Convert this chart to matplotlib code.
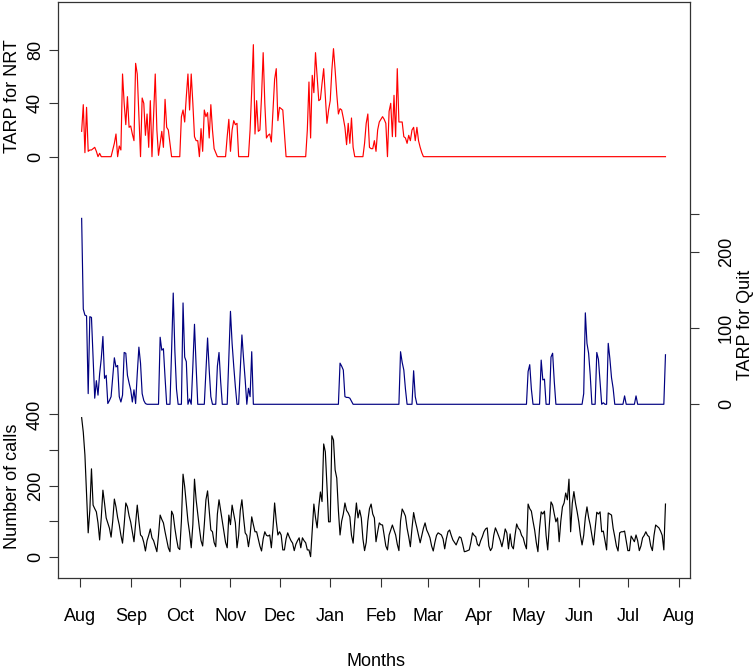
import numpy as np
import pandas as pd
import matplotlib
matplotlib.use("Agg")
import matplotlib.pyplot as plt

plt.rcParams['font.family'] = ['Liberation Sans', 'DejaVu Sans']

# ---------------- data (daily, starting 2011-08-02) ----------------
start_date = "2011-08-02"
month_ticks = pd.date_range("2011-08-01", "2012-08-01", freq="MS")
month_labels = [d.strftime("%b") for d in month_ticks]

calls = [
    391, 350, 286, 180, 67, 130,
    247, 145, 135, 126, 95, 47, 110,
    187, 150, 109, 95, 80, 55, 100,
    162, 140, 110, 89, 60, 38, 90,
    151, 140, 115, 97, 70, 42, 95,
    145, 100, 61, 56, 40, 16, 45,
    60, 78, 53, 45, 30, 14, 60,
    117, 105, 95, 70, 47, 25, 14,
    128, 117, 80, 50, 25, 20, 100,
    232, 197, 150, 100, 67, 25, 90,
    218, 160, 120, 80, 45, 30, 90,
    160, 185, 130, 75, 70, 40, 28,
    120, 160, 130, 98, 70, 40, 25,
    117, 90, 145, 120, 95, 25, 60,
    130, 160, 110, 67, 60, 28, 60,
    112, 90, 70, 70, 50, 30, 16,
    50, 70, 60, 58, 61, 25, 80,
    151, 100, 61, 70, 61, 19, 19,
    50, 67, 55, 45, 38, 17, 35,
    45, 53, 25, 53, 45, 39, 19,
    19, 0, 75, 148, 110, 81, 140,
    182, 155, 317, 295, 200, 98, 98,
    340, 328, 244, 221, 130, 61, 100,
    120, 151, 130, 123, 112, 60, 38,
    100, 151, 109, 131, 109, 50, 17,
    40, 100, 135, 148, 120, 109, 42,
    70, 95, 90, 89, 60, 30, 19,
    61, 75, 89, 75, 61, 35, 17,
    100, 134, 125, 114, 80, 56, 28,
    80, 124, 100, 81, 60, 39, 60,
    80, 95, 75, 65, 53, 30, 16,
    40, 60, 67, 64, 61, 50, 22,
    50, 70, 75, 60, 47, 40, 33,
    45, 56, 53, 35, 14, 15, 17,
    19, 40, 67, 60, 56, 35, 30,
    45, 56, 70, 78, 81, 30, 17,
    25, 60, 81, 70, 58, 45, 28,
    50, 78, 67, 22, 64, 30, 22,
    60, 92, 80, 75, 60, 53, 35,
    22, 148, 135, 128, 100, 75, 40,
    14, 80, 126, 120, 128, 60, 19,
    90, 154, 145, 120, 98, 109, 42,
    100, 140, 151, 179, 160, 218, 70,
    150, 183, 150, 126, 98, 60, 33,
    60, 110, 140, 110, 89, 60, 33,
    80, 125, 120, 126, 70, 72, 45,
    19, 123, 120, 117, 80, 56, 30,
    16, 67, 70, 70, 72, 45, 17,
    17, 58, 50, 42, 61, 45, 17,
    30, 53, 60, 70, 60, 56, 30,
    17, 60, 89, 85, 81, 72, 60,
    19, 148,
]

nrt = [
    19, 39, 3, 37, 4, 5,
    5, 6, 7, 4, 0, 2.5, 0,
    0, 0, 0, 0, 0, 0, 5,
    10, 17, 0, 8, 5, 62, 40,
    24, 45, 22, 23, 17, 12, 70,
    62, 30, 0, 44, 40, 16, 32,
    7, 42, 0, 30, 62, 20, 1,
    10, 19, 7, 43, 22, 20, 10,
    0, 0, 0, 0, 0, 0, 30,
    35, 26, 45, 62, 35, 62, 40,
    15, 12, 12, 0, 21, 4, 35,
    30, 33, 14, 39, 20, 6, 3,
    0, 0, 0, 0, 0, 0, 15,
    28, 4, 20, 27, 24, 25, 0,
    0, 0, 0, 0, 0, 0, 20,
    50, 84, 17, 42, 19, 20, 45,
    78, 40, 14, 16, 17, 11, 35,
    58, 66, 27, 37, 36, 35, 17,
    0, 0, 0, 0, 0, 0, 0,
    0, 0, 0, 0, 0, 0, 20,
    56, 14, 61, 48, 78, 60, 42,
    43, 55, 66, 45, 25, 35, 42,
    65, 81, 65, 47, 32, 36, 35,
    29, 22, 9, 25, 10, 29, 7,
    0, 0, 0, 0, 0, 0, 10,
    25, 32, 7, 6, 6, 12, 4,
    20, 26, 28, 30, 28, 25, 0,
    34, 40, 15, 46, 15, 66, 26,
    26, 26, 15, 14, 10, 16, 12,
    20, 22, 12, 22, 12, 7, 3,
    0, 0, 0, 0, 0, 0, 0,
    0, 0, 0, 0, 0, 0, 0,
    0, 0, 0, 0, 0, 0, 0,
    0, 0, 0, 0, 0, 0, 0,
    0, 0, 0, 0, 0, 0, 0,
    0, 0, 0, 0, 0, 0, 0,
    0, 0, 0, 0, 0, 0, 0,
    0, 0, 0, 0, 0, 0, 0,
    0, 0, 0, 0, 0, 0, 0,
    0, 0, 0, 0, 0, 0, 0,
    0, 0, 0, 0, 0, 0, 0,
    0, 0, 0, 0, 0, 0, 0,
    0, 0, 0, 0, 0, 0, 0,
    0, 0, 0, 0, 0, 0, 0,
    0, 0, 0, 0, 0, 0, 0,
    0, 0, 0, 0, 0, 0, 0,
    0, 0, 0, 0, 0, 0, 0,
    0, 0, 0, 0, 0, 0, 0,
    0, 0, 0, 0, 0, 0, 0,
    0, 0, 0, 0, 0, 0, 0,
    0, 0, 0, 0, 0, 0, 0,
    0, 0,
]

quit_calls = [
    244, 125, 117, 116, 14, 115,
    114, 60, 8, 31, 12, 40, 60,
    89, 34, 38, 1, 5, 10, 35,
    61, 49, 51, 10, 3, 12, 68,
    67, 38, 28, 19, 3, 19, 1,
    40, 75, 54, 14, 5, 1, 0,
    0, 0, 0, 0, 0, 0, 0,
    88, 71, 73, 35, 0, 0, 0,
    70, 146, 70, 20, 0, 0, 0,
    133, 62, 56, 0, 7, 0, 50,
    105, 50, 0, 0, 0, 0, 0,
    45, 87, 45, 10, 0, 0, 0,
    50, 68, 30, 0, 0, 0, 0,
    60, 122, 80, 50, 23, 0, 0,
    45, 91, 60, 32, 0, 21, 10,
    69, 0, 0, 0, 0, 0, 0,
    0, 0, 0, 0, 0, 0, 0,
    0, 0, 0, 0, 0, 0, 0,
    0, 0, 0, 0, 0, 0, 0,
    0, 0, 0, 0, 0, 0, 0,
    0, 0, 0, 0, 0, 0, 0,
    0, 0, 0, 0, 0, 0, 0,
    0, 0, 0, 0, 0, 54, 50,
    45, 10, 9, 9, 8, 4, 0,
    0, 0, 0, 0, 0, 0, 0,
    0, 0, 0, 0, 0, 0, 0,
    0, 0, 0, 0, 0, 0, 0,
    0, 0, 0, 0, 0, 0, 0,
    69, 55, 45, 20, 0, 0, 0,
    0, 44, 10, 0, 0, 0, 0,
    0, 0, 0, 0, 0, 0, 0,
    0, 0, 0, 0, 0, 0, 0,
    0, 0, 0, 0, 0, 0, 0,
    0, 0, 0, 0, 0, 0, 0,
    0, 0, 0, 0, 0, 0, 0,
    0, 0, 0, 0, 0, 0, 0,
    0, 0, 0, 0, 0, 0, 0,
    0, 0, 0, 0, 0, 0, 0,
    0, 0, 0, 0, 0, 0, 0,
    0, 43, 52, 20, 0, 0, 0,
    0, 0, 58, 32, 33, 0, 0,
    0, 62, 67, 30, 0, 0, 0,
    0, 0, 0, 0, 0, 0, 0,
    0, 0, 0, 0, 0, 0, 0,
    14, 120, 80, 67, 38, 0, 0,
    0, 68, 59, 30, 0, 2, 0,
    0, 80, 60, 35, 21, 0, 0,
    0, 0, 0, 0, 11, 0, 0,
    0, 0, 0, 0, 11, 0, 0,
    0, 0, 0, 0, 0, 0, 0,
    0, 0, 0, 0, 0, 0, 0,
    0, 65,
]

calls_ticks = [0, 100, 200, 300, 400]
calls_ticklabels = ["0", "", "200", "", "400"]
nrt_ticks = [0, 40, 80]
nrt_ticklabels = ["0", "40", "80"]
quit_ticks = [0, 100, 200, 250]
quit_ticklabels = ["0", "100", "200", ""]


def dates_for(v):
    return pd.date_range(start_date, periods=len(v), freq="D")


# ---------------- figure ----------------
W, H = 753, 670
fig = plt.figure(figsize=(W / 100, H / 100), dpi=100)
rect = [58 / W, (H - 578) / H, 632 / W, 576 / H]

ax_c = fig.add_axes(rect)
ax_n = fig.add_axes(rect, sharex=ax_c)
ax_q = fig.add_axes(rect, sharex=ax_c)

FS = 13
LW = 0.85
box_col = "#333333"

ax_n.plot(dates_for(nrt), nrt, color="#ff0000", lw=LW)
ax_q.plot(dates_for(quit_calls), quit_calls, color="#000080", lw=LW)
ax_c.plot(dates_for(calls), calls, color="black", lw=LW)

x0 = pd.Timestamp("2011-08-01")
ax_c.set_xlim(x0 - pd.Timedelta(days=13.46), x0 + pd.Timedelta(days=373.0))

ax_c.set_ylim(-60, 1560)
ax_n.set_ylim(-316, 116)
ax_q.set_ylim(-228, 528)

for a in (ax_n, ax_q):
    a.patch.set_visible(False)
    for s in a.spines.values():
        s.set_visible(False)
    a.tick_params(axis="x", which="both", bottom=False, labelbottom=False,
                  top=False, labeltop=False)

for s in ax_c.spines.values():
    s.set_color(box_col)
    s.set_linewidth(0.9)

ax_c.set_xticks(month_ticks, month_labels, fontsize=FS)
ax_c.tick_params(axis="x", direction="out", length=6.5, width=0.8,
                 color=box_col, pad=15)

ax_c.set_yticks(calls_ticks, calls_ticklabels, fontsize=FS, rotation=90, va="center")
ax_c.tick_params(axis="y", direction="out", length=6.5, width=0.8,
                 color=box_col, pad=3.5)

ax_n.set_yticks(nrt_ticks, nrt_ticklabels, fontsize=FS, rotation=90, va="center")
ax_n.tick_params(axis="y", direction="out", length=6.5, width=0.8,
                 color=box_col, pad=3.5)

ax_q.yaxis.tick_right()
ax_q.set_yticks(quit_ticks, quit_ticklabels, fontsize=FS, rotation=90, va="center")
ax_q.tick_params(axis="y", direction="out", length=6.5, width=0.8,
                 color=box_col, pad=13.5)

fig.text(13 / W, 1 - 96 / H, "TARP for NRT", rotation=90, ha="center",
         va="center", fontsize=FS)
fig.text(13 / W, 1 - 486 / H, "Number of calls", rotation=90, ha="center",
         va="center", fontsize=FS)
fig.text(746 / W, 1 - 325 / H, "TARP for Quit", rotation=90, ha="center",
         va="center", fontsize=FS)
fig.text(376 / W, 1 - 666 / H, "Months", ha="center", va="baseline",
         fontsize=FS)

fig.savefig("out.png", dpi=100)
